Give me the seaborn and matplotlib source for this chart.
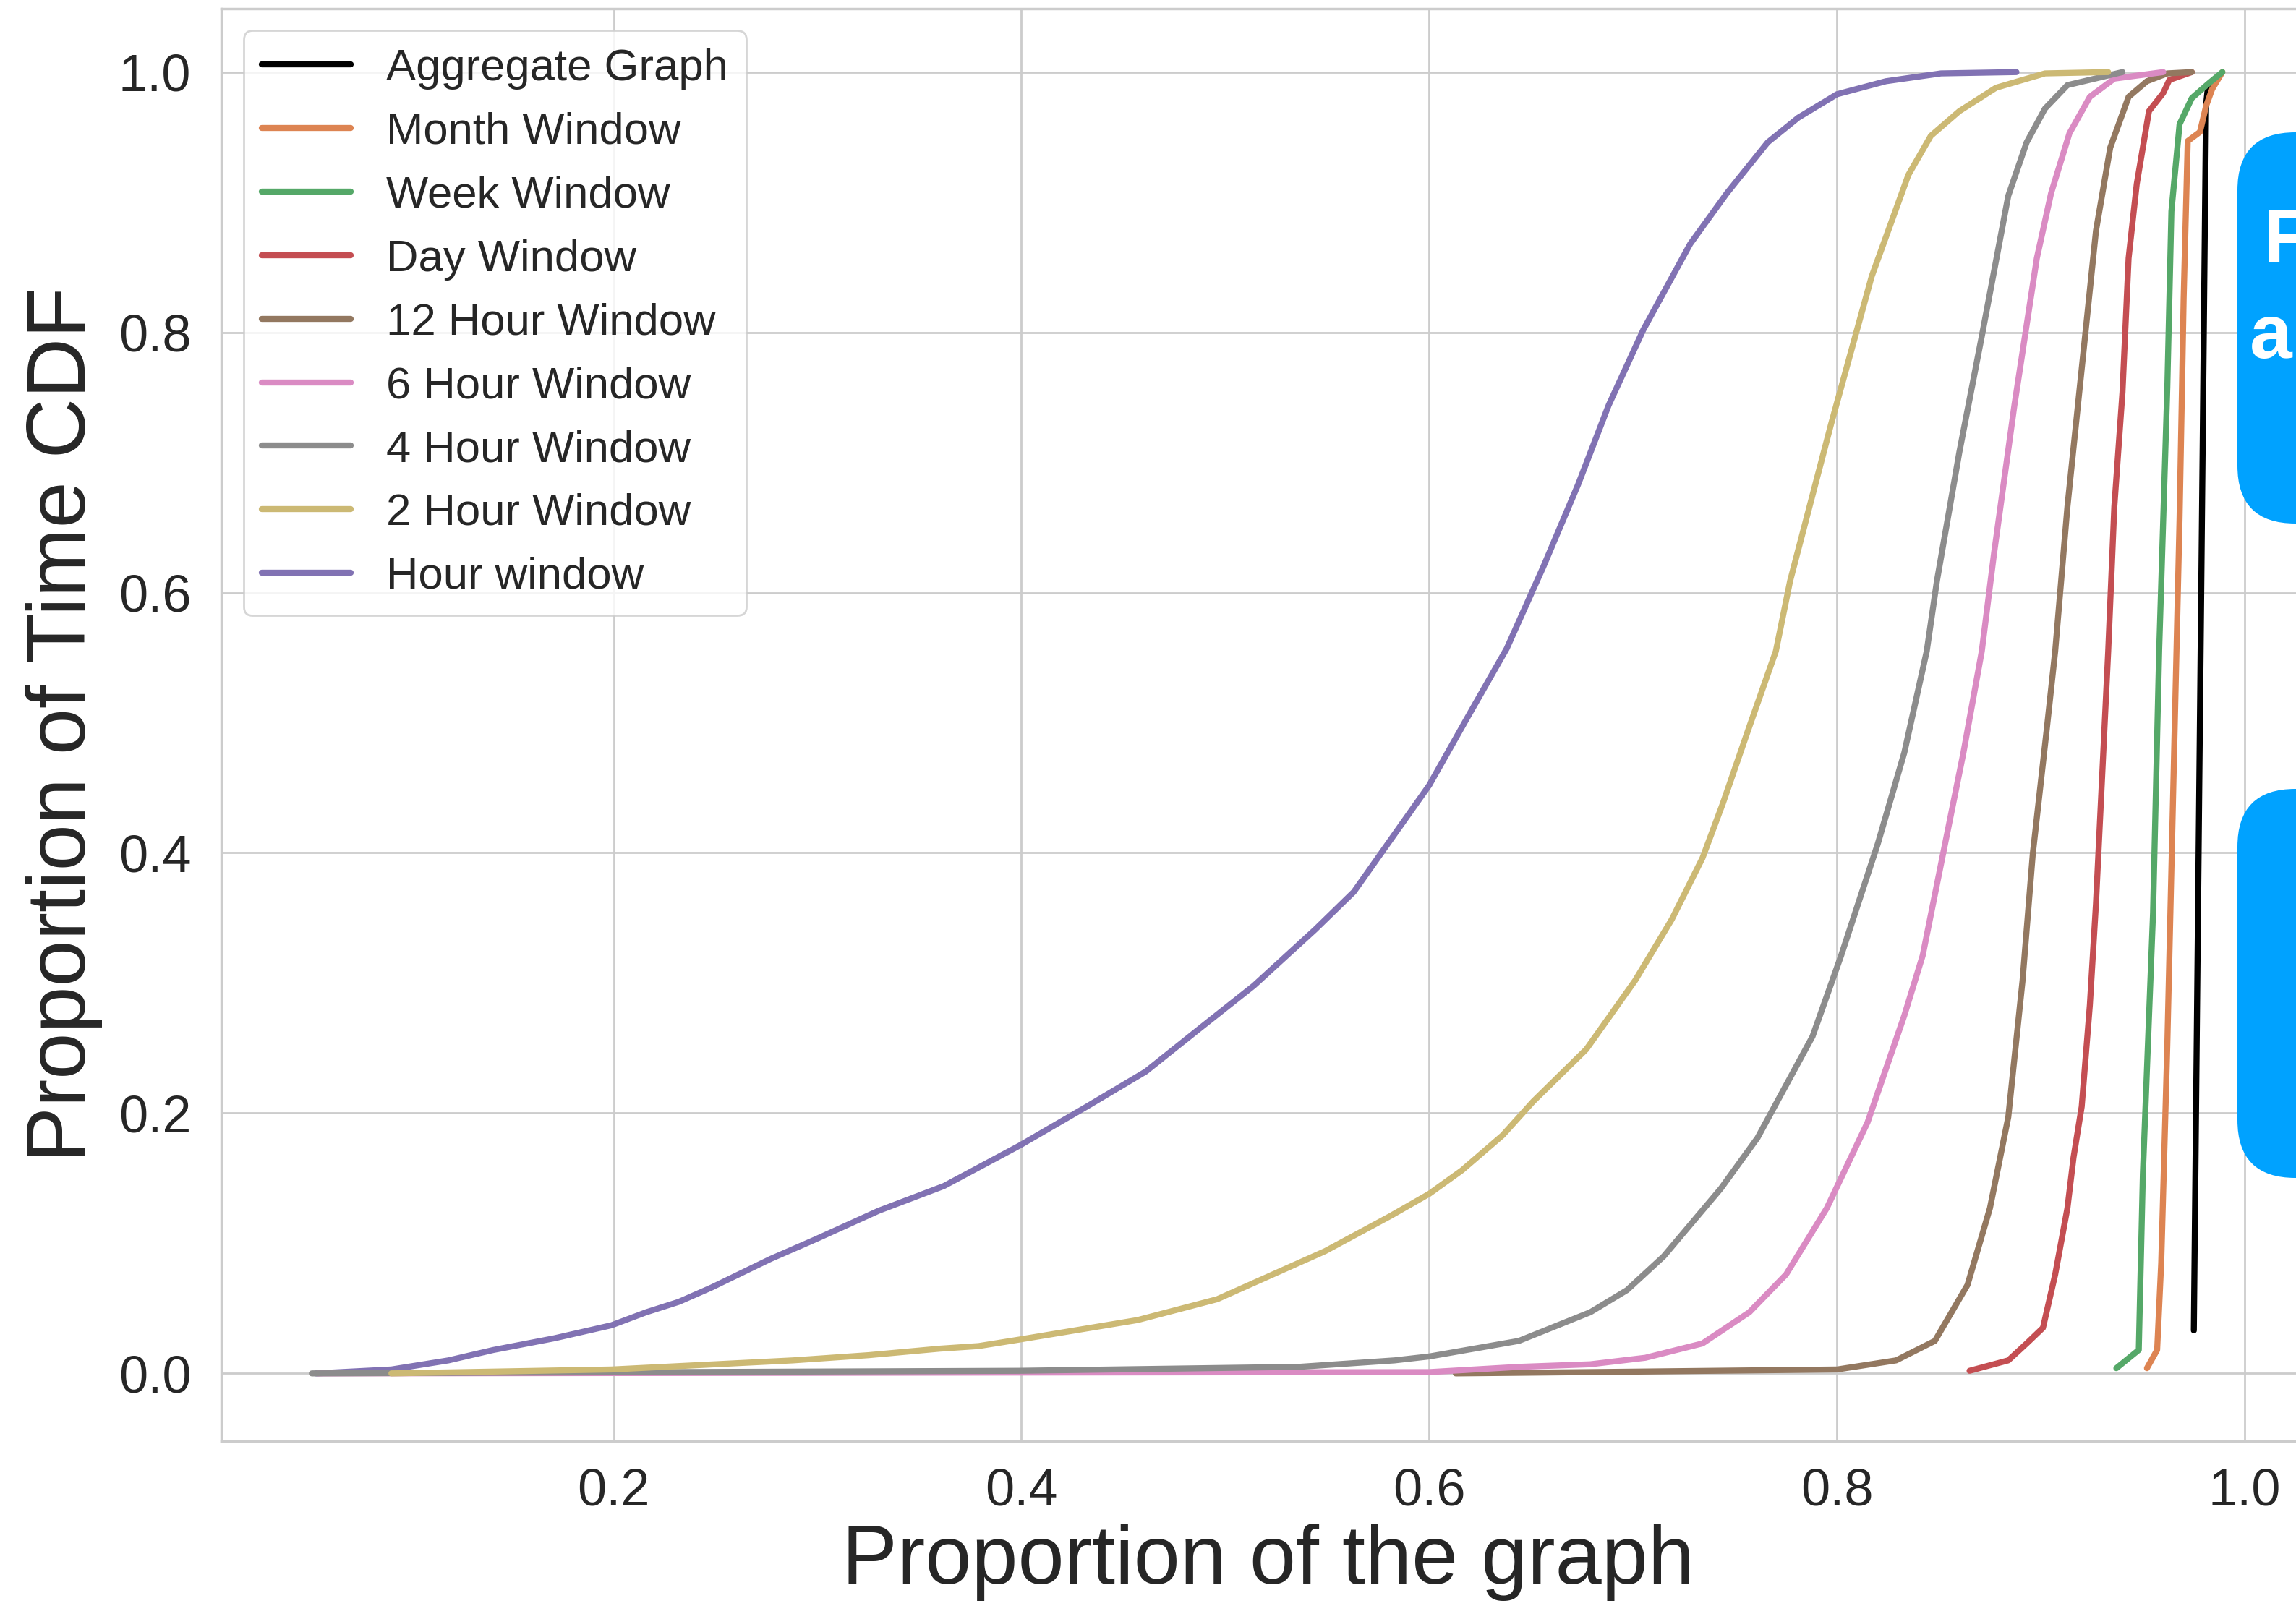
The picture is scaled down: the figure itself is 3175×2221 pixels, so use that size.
import matplotlib.pyplot as plt
import seaborn as sns
from matplotlib.patches import FancyBboxPatch
from matplotlib.transforms import IdentityTransform

sns.set_theme(style='whitegrid')
plt.rcParams['font.family'] = ['Liberation Sans', 'DejaVu Sans']

# CDF curves (x = proportion of graph, y = CDF)
agg_x = [0.975, 0.981, 0.982]
agg_y = [0.033, 0.975, 0.990]

month_x = [0.952, 0.957, 0.959, 0.962, 0.965, 0.968, 0.970, 0.972, 0.978, 0.981, 0.984, 0.989]
month_y = [0.004, 0.018, 0.085, 0.253, 0.455, 0.657, 0.826, 0.947, 0.954, 0.974, 0.987, 1.000]

week_x = [0.937, 0.948, 0.950, 0.955, 0.958, 0.962, 0.964, 0.968, 0.974, 0.982, 0.989]
week_y = [0.004, 0.018, 0.153, 0.354, 0.556, 0.758, 0.893, 0.960, 0.980, 0.991, 1.000]

day_x = [0.865, 0.884, 0.893, 0.901, 0.907, 0.913, 0.916, 0.920, 0.924, 0.927,
         0.930, 0.933, 0.936, 0.940, 0.943, 0.947, 0.953, 0.960, 0.963, 0.974]
day_y = [0.002, 0.010, 0.023, 0.035, 0.076, 0.127, 0.166, 0.205, 0.283, 0.361,
         0.458, 0.555, 0.666, 0.754, 0.857, 0.914, 0.970, 0.984, 0.994, 1.000]

h12_x = [0.613, 0.679, 0.800, 0.829, 0.848, 0.864, 0.875, 0.884, 0.891, 0.896,
         0.903, 0.907, 0.913, 0.920, 0.927, 0.934, 0.943, 0.952, 0.962, 0.974]
h12_y = [0.000, 0.001, 0.003, 0.010, 0.025, 0.068, 0.127, 0.197, 0.302, 0.399,
         0.497, 0.555, 0.666, 0.772, 0.878, 0.942, 0.981, 0.993, 0.999, 1.000]

h6_x = [0.055, 0.600, 0.644, 0.679, 0.706, 0.734, 0.757, 0.775, 0.795, 0.815, 0.833, 0.842,
        0.853, 0.862, 0.871, 0.877, 0.887, 0.898, 0.905, 0.914, 0.924, 0.936, 0.960]
h6_y = [0.000, 0.001, 0.005, 0.007, 0.012, 0.023, 0.047, 0.076, 0.127, 0.193, 0.275, 0.321,
        0.407, 0.477, 0.555, 0.630, 0.744, 0.857, 0.907, 0.953, 0.981, 0.995, 1.000]

h4_x = [0.052, 0.399, 0.536, 0.583, 0.600, 0.644, 0.679, 0.697, 0.715, 0.743, 0.761, 0.788,
        0.802, 0.820, 0.833, 0.844, 0.849, 0.860, 0.871, 0.884, 0.893, 0.902, 0.913, 0.940]
h4_y = [0.000, 0.002, 0.005, 0.010, 0.013, 0.025, 0.047, 0.064, 0.090, 0.142, 0.181, 0.259,
        0.321, 0.407, 0.477, 0.555, 0.609, 0.708, 0.797, 0.905, 0.946, 0.972, 0.990, 1.000]

h2_x = [0.091, 0.199, 0.288, 0.325, 0.360, 0.379, 0.399, 0.457, 0.496, 0.549, 0.581,
        0.600, 0.616, 0.636, 0.651, 0.677, 0.701, 0.719, 0.734, 0.744, 0.757, 0.770,
        0.777, 0.797, 0.817, 0.835, 0.846, 0.860, 0.878, 0.902, 0.933]
h2_y = [0.000, 0.003, 0.010, 0.014, 0.019, 0.021, 0.026, 0.041, 0.057, 0.094, 0.121,
        0.138, 0.156, 0.183, 0.209, 0.249, 0.302, 0.349, 0.396, 0.438, 0.497, 0.555,
        0.609, 0.729, 0.843, 0.921, 0.951, 0.970, 0.988, 0.999, 1.000]

h1_x = [0.054, 0.091, 0.119, 0.141, 0.171, 0.199, 0.216, 0.232, 0.248, 0.277, 0.299, 0.330,
        0.362, 0.399, 0.432, 0.461, 0.489, 0.514, 0.544, 0.563, 0.586, 0.600, 0.618, 0.638,
        0.656, 0.673, 0.688, 0.705, 0.728, 0.746, 0.766, 0.781, 0.800, 0.824, 0.851, 0.888]
h1_y = [0.000, 0.003, 0.010, 0.018, 0.027, 0.037, 0.047, 0.055, 0.066, 0.088, 0.103, 0.125,
        0.144, 0.175, 0.205, 0.232, 0.267, 0.298, 0.341, 0.370, 0.421, 0.452, 0.502, 0.557,
        0.620, 0.683, 0.744, 0.802, 0.868, 0.907, 0.946, 0.965, 0.983, 0.993, 0.999, 1.000]

labels = ['Aggregate Graph', 'Month Window', 'Week Window', 'Day Window', '12 Hour Window',
          '6 Hour Window', '4 Hour Window', '2 Hour Window', 'Hour window']
colors = ['black', '#DD8452', '#55A868', '#C44E52', '#937860',
          '#DA8BC3', '#8C8C8C', '#CCB974', '#8172B3']
xs = [agg_x, month_x, week_x, day_x, h12_x, h6_x, h4_x, h2_x, h1_x]
ys = [agg_y, month_y, week_y, day_y, h12_y, h6_y, h4_y, h2_y, h1_y]

fig = plt.figure(figsize=(15.875, 11.105), dpi=200)
ax = fig.add_axes([0.0964, 0.1027, 0.9115, 0.8921])

for lab, x, y, c in zip(labels, xs, ys, colors):
    z = 1.9 if lab == 'Hour window' else 2
    sns.lineplot(x=x, y=y, color=c, linewidth=3.0, label=lab, ax=ax,
                 estimator=None, sort=False, zorder=z)

ax.set_xlim(0.0076, 1.034)
ax.set_ylim(-0.052, 1.049)
ax.set_xticks([0.2, 0.4, 0.6, 0.8, 1.0])
ax.set_yticks([0.0, 0.2, 0.4, 0.6, 0.8, 1.0])
ax.tick_params(axis='x', labelsize=26, pad=13, length=0)
ax.tick_params(axis='y', labelsize=26, pad=15, length=0)
ax.set_xlabel('Proportion of the graph', fontsize=41.5, labelpad=4)
ax.set_ylabel('Proportion of Time CDF', fontsize=41.5, labelpad=8)

leg = ax.legend(loc='upper left', fontsize=22.2, labelspacing=0.5, handlelength=2.0,
                handletextpad=0.8, frameon=True)
for line in leg.get_lines():
    line.set_linewidth(3.0)

# blue callout boxes cut off at the right edge
ident = IdentityTransform()
for y0, h in [(1497, 541), (592, 538)]:
    fig.patches.append(FancyBboxPatch((3094, y0), 300, h,
                                      boxstyle='round,pad=0,rounding_size=80',
                                      facecolor='#00A2FF', edgecolor='none',
                                      transform=ident, figure=fig))
fig.text(3130, 1859, 'F', transform=ident, color='white', fontsize=38,
         fontweight='bold', ha='left', va='baseline')
fig.text(3111, 1726, 'a', transform=ident, color='white', fontsize=38,
         fontweight='bold', ha='left', va='baseline')

fig.savefig('out.png', dpi=200)
